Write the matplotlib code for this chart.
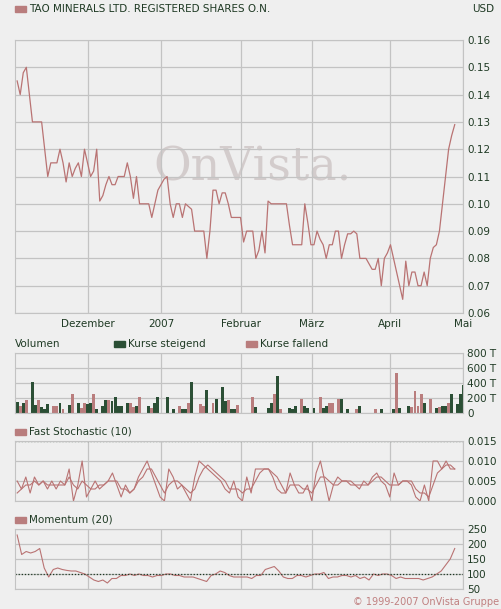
import numpy as np
import matplotlib
matplotlib.use("Agg")
import matplotlib.pyplot as plt

price = [0.145,0.14,0.148,0.15,0.14,0.13,0.13,0.13,0.13,0.12,0.11,0.115,0.115,0.115,0.12,0.115,0.108,0.115,0.11,0.113,0.115,0.11,0.12,0.115,0.11,0.112,0.12,
0.101,0.103,0.107,0.11,0.107,0.107,0.11,0.11,0.11,0.115,0.11,0.102,0.11,0.10,0.10,0.10,0.10,0.095,0.10,0.105,0.107,0.109,0.11,
0.10,0.095,0.10,0.10,0.095,0.10,0.099,0.098,0.09,0.09,0.09,0.09,0.08,0.09,0.105,0.105,0.10,0.104,0.104,0.10,
0.095,0.095,0.095,0.095,0.086,0.09,0.09,0.09,0.08,0.083,0.09,0.082,0.101,0.10,0.10,0.10,0.10,0.10,0.10,
0.092,0.085,0.085,0.085,0.085,0.10,0.093,0.085,0.085,0.09,0.087,0.085,0.08,0.085,0.085,0.09,0.09,0.08,
0.085,0.089,0.089,0.09,0.089,0.08,0.08,0.08,0.078,0.076,0.076,0.08,0.07,0.08,0.082,0.085,0.08,0.075,0.07,0.065,
0.079,0.07,0.075,0.075,0.07,0.07,0.075,0.07,0.08,0.084,0.085,0.09,0.10,0.11,0.12,0.125,0.129]

month_pos = [23, 47, 73.3, 96.3, 121.7, 145.7]
month_labels = ["Dezember", "2007", "Februar", "März", "April", "Mai"]

vol_idx = [0,1,2,3,5,6,7,8,9,10,12,13,14,15,17,18,20,21,22,23,24,25,26,28,29,30,31,32,33,34,36,37,38,39,40,43,44,45,46,49,51,53,54,55,56,57,60,61,62,64,65,67,68,69,70,71,72,77,78,82,83,84,85,86,89,90,91,93,94,95,97,99,100,101,102,103,105,106,108,111,112,117,119,123,124,125,128,129,130,131,132,133,135,137,138,139,140,141,142,144,145,146,147,148]
vol_val = [150,90,130,180,410,110,170,80,60,120,100,90,130,60,110,260,140,70,140,120,140,260,60,90,180,180,160,210,100,90,140,130,80,90,210,100,70,130,220,210,60,90,60,60,140,420,120,90,310,140,190,350,160,170,60,60,110,220,80,70,130,250,500,60,70,60,100,190,100,70,70,220,70,100,140,140,190,190,60,60,90,60,60,60,540,70,90,80,300,90,250,130,190,70,80,100,100,130,250,120,250,380,800,520]
vol_up = [1,0,1,0,1,1,0,1,1,1,0,0,1,0,1,0,1,0,0,1,1,0,1,1,1,0,1,1,1,1,1,0,0,1,0,1,0,1,1,1,1,0,1,1,0,1,0,0,1,0,1,1,1,0,1,1,0,0,1,1,1,0,1,0,1,1,1,0,1,1,1,0,1,1,0,0,0,1,1,0,1,0,1,1,0,1,1,0,0,0,0,1,0,1,0,1,1,0,1,1,1,1,1,1]

stoch_k = [0.005,0.003,0.006,0.002,0.006,0.004,0.005,0.003,0.005,0.003,0.005,0.004,0.008,0.0,0.004,0.010,0.001,0.003,0.005,0.003,0.004,0.005,0.007,0.004,0.001,0.004,0.002,0.003,0.006,0.008,0.010,0.007,0.004,0.001,0.0,0.008,0.006,0.003,0.004,0.002,0.0,0.006,0.010,0.009,0.008,0.007,0.006,0.005,0.003,0.002,0.005,0.001,0.0,0.006,0.002,0.008,0.008,0.008,0.008,0.006,0.003,0.002,0.002,0.007,0.004,0.002,0.002,0.004,0.0,0.007,0.010,0.005,0.0,0.004,0.006,0.005,0.005,0.004,0.004,0.003,0.005,0.004,0.006,0.007,0.005,0.004,0.001,0.007,0.004,0.005,0.005,0.004,0.001,0.0,0.004,0.0,0.010,0.010,0.008,0.010,0.008,0.008]
stoch_d = [0.002,0.003,0.004,0.004,0.005,0.004,0.005,0.004,0.004,0.004,0.004,0.004,0.006,0.004,0.003,0.005,0.004,0.003,0.003,0.004,0.004,0.005,0.005,0.005,0.003,0.003,0.002,0.003,0.005,0.006,0.008,0.008,0.006,0.004,0.002,0.004,0.005,0.005,0.004,0.003,0.002,0.003,0.006,0.008,0.009,0.008,0.007,0.006,0.005,0.003,0.003,0.003,0.002,0.003,0.003,0.005,0.007,0.008,0.008,0.007,0.006,0.004,0.002,0.004,0.004,0.004,0.003,0.003,0.002,0.004,0.006,0.006,0.005,0.004,0.004,0.005,0.005,0.005,0.004,0.004,0.004,0.004,0.005,0.006,0.006,0.005,0.004,0.004,0.004,0.005,0.005,0.005,0.003,0.002,0.002,0.001,0.004,0.007,0.008,0.009,0.009,0.008]

momentum = [230,165,175,170,175,185,120,90,115,120,115,112,110,110,105,100,90,80,75,80,70,85,85,95,95,100,95,100,95,95,90,95,95,100,100,95,95,90,90,90,85,80,75,95,100,110,105,95,90,90,90,90,85,95,95,115,120,125,110,90,85,85,95,95,90,95,100,100,105,85,90,90,95,95,90,95,85,90,80,100,95,100,100,95,85,90,85,85,85,85,80,85,90,100,110,130,150,185]

BG = "#efefef"; GRID = "#c3c3c3"; LINE = "#b97373"; TXT = "#1f3a24"
UP = "#2b4f35"; DOWN = "#b97d7d"
plt.rcParams['font.family'] = ['DejaVu Sans']
fig = plt.figure(figsize=(5.01, 6.09), dpi=100, facecolor=BG)
n = len(price)
x = np.arange(n)
xl = (-0.7, n - 1 + 0.7)
W = 609.0
def mkax(top, bottom):
    ax = fig.add_axes([15/501, 1-bottom/W, 448/501, (bottom-top)/W], facecolor=BG)
    ax.set_xlim(*xl)
    for s in ax.spines.values():
        s.set_color(GRID)
    ax.yaxis.tick_right()
    ax.tick_params(length=0, labelsize=7.5, colors=TXT, pad=3)
    ax.set_xticks(month_pos)
    ax.grid(True, color=GRID, lw=0.9)
    ax.set_axisbelow(True)
    return ax

ax = mkax(40, 313)
ax.plot(x, price, color=LINE, lw=0.9)
ax.set_ylim(0.06, 0.16)
ax.set_yticks(np.arange(0.06, 0.161, 0.01))
ax.set_yticklabels([f"{v:.2f}" for v in np.arange(0.06, 0.161, 0.01)])
ax.set_xticklabels(month_labels)
ax.tick_params(axis='x', pad=4)
ax.text(0.53, 0.53, "OnVista.", transform=ax.transAxes, ha='center', va='center',
        fontsize=33, family='DejaVu Serif', color='#cdc4c4', alpha=0.8, zorder=0)

av = mkax(353, 413)
av.bar(vol_idx, vol_val, width=0.95, color=[UP if u else DOWN for u in vol_up])
av.set_ylim(0, 800)
av.set_yticks([0, 200, 400, 600, 800])
av.set_yticklabels(["0", "200 T", "400 T", "600 T", "800 T"])
av.set_xticklabels([])

ast = mkax(441, 501)
xs = np.linspace(0, n - 1, len(stoch_k))
ast.plot(xs, stoch_k, color=LINE, lw=0.8)
ast.plot(np.linspace(0, n - 1, len(stoch_d)), stoch_d, color=LINE, lw=0.8)
ast.set_ylim(0, 0.015)
ast.set_yticks([0, 0.005, 0.010, 0.015])
ast.set_yticklabels(["0.000", "0.005", "0.010", "0.015"])
ast.axhline(0.015, color=TXT, ls=(0, (1, 1.5)), lw=0.9)
ast.set_xticklabels([])

am = mkax(529, 589)
am.plot(np.linspace(0, n - 1, len(momentum)), momentum, color=LINE, lw=0.8)
am.set_ylim(50, 250)
am.set_yticks([50, 100, 150, 200, 250])
am.axhline(100, color=TXT, ls=(0, (1, 1.5)), lw=0.9)
am.set_xticklabels([])

def label(y, txt, xpos=15/501, box=True):
    if box:
        fig.patches.append(plt.Rectangle((xpos, 1-(y+3)/W), 11/501, 6/W, transform=fig.transFigure, color=DOWN))
        fig.text(xpos + 14/501, 1-y/W, txt, fontsize=7.5, color=TXT, va='center')
    else:
        fig.text(xpos, 1-y/W, txt, fontsize=7.5, color=TXT, va='center')

label(9, "TAO MINERALS LTD. REGISTERED SHARES O.N.")
fig.text(494/501, 1-9/W, "USD", fontsize=7.5, color=TXT, va='center', ha='right')
label(344, "Volumen", box=False)
fig.patches.append(plt.Rectangle((114/501, 1-347/W), 11/501, 6/W, transform=fig.transFigure, color=UP))
fig.text(128/501, 1-344/W, "Kurse steigend", fontsize=7.5, color=TXT, va='center')
fig.patches.append(plt.Rectangle((246/501, 1-347/W), 11/501, 6/W, transform=fig.transFigure, color=DOWN))
fig.text(260/501, 1-344/W, "Kurse fallend", fontsize=7.5, color=TXT, va='center')
label(432, "Fast Stochastic (10)")
label(520, "Momentum (20)")
fig.text(499/501, 1-602/W, "© 1999-2007 OnVista Gruppe", fontsize=7, color="#c08080", va='center', ha='right')

fig.savefig("out.png", dpi=100, facecolor=BG)
